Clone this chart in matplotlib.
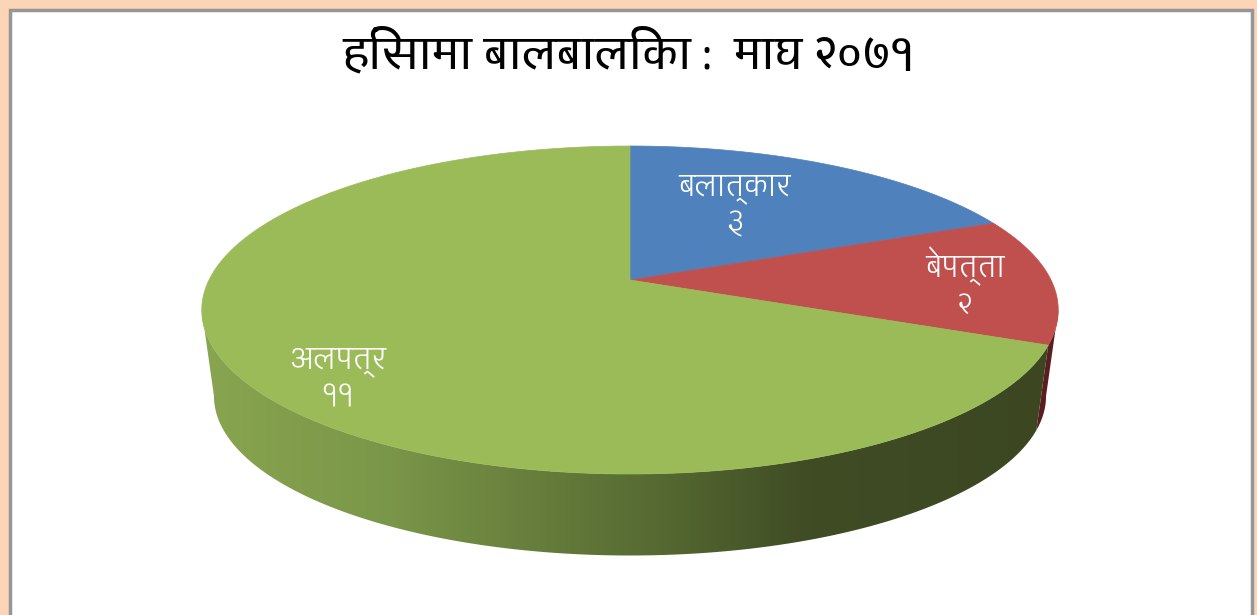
import matplotlib
matplotlib.use('Agg')
import matplotlib.pyplot as plt
from matplotlib.colors import LinearSegmentedColormap
from matplotlib.patches import Polygon, Rectangle
import numpy as np

# Dados
categorias = ['बलात्कार', 'बेपत्ता', 'अलपत्र']
valores = [3, 2, 11]
rotulos_valor = ['३', '२', '११']
titulo = 'हिंसामा बालबालिका :  माघ २०७१'

cores = ['#4F81BD', '#C0504D', '#9BBB59']
pos_rotulos = [(735, 207), (965, 285), (338, 380)]

FONTE = 'Glegoo'
K = 0.183


def projeta(ang, cx, cy, a, b):
    # ang em radianos a partir do topo, sentido horario
    u, v = np.sin(ang), np.cos(ang)
    d = 1 + K * v
    return cx + a * u / d, cy - b * v / d


def topo(ang):
    return projeta(ang, 630, 280, 421, 158.5)


def fundo(ang):
    return projeta(ang, 630, 367, 409, 154)


def lateral(a0, a1):
    # faixa entre o arco de cima e o de baixo, de a0 ate a1
    ang = np.linspace(a0, a1, 300)
    xt, yt = topo(ang)
    xf, yf = fundo(ang)
    return np.r_[np.c_[xt, yt], np.c_[xf, yf][::-1]]


fig = plt.figure(figsize=(12.57, 6.15), dpi=100, facecolor='#FBD5B5')
ax = fig.add_axes([0, 0, 1, 1])
ax.set_xlim(0, 1257)
ax.set_ylim(615, 0)
ax.axis('off')

# moldura
ax.add_patch(Rectangle((9.5, 9.5), 1242, 640, fc='white', ec='#969696', lw=2.5, zorder=0))

limites = np.cumsum([0] + valores) / sum(valores) * 2 * np.pi

# pontos extremos da elipse em perspectiva: cos(ang) = -K
ang_dir = np.arccos(-K)
ang_esq = 2 * np.pi - ang_dir

# lateral vermelha (so um filete aparece a direita)
ax.add_patch(Polygon(lateral(ang_dir, limites[2]), fc='#5A1E20', ec='none', zorder=1))

# lateral verde com degrade
grad = LinearSegmentedColormap.from_list('lado', [
    (0.00, '#88A550'), (0.22, '#7A9648'), (0.36, '#6A823E'),
    (0.53, '#566A32'), (0.71, '#3F4C24'), (1.00, '#3C4722')])
p = Polygon(lateral(limites[2], ang_esq), fc='none', ec='none', zorder=2)
ax.add_patch(p)
im = ax.imshow(np.linspace(0, 1, 256).reshape(1, -1), cmap=grad, aspect='auto',
               extent=(202, 1058, 560, 300), zorder=2)
im.set_clip_path(p)

# fatias
for i in range(len(valores)):
    ang = np.linspace(limites[i], limites[i + 1], 300)
    xt, yt = topo(ang)
    pts = np.r_[[(630, 280)], np.c_[xt, yt]]
    ax.add_patch(Polygon(pts, fc=cores[i], ec=cores[i], lw=0.5, zorder=3))

ax.set_xlim(0, 1257)
ax.set_ylim(615, 0)

for nome, rot, (x, y) in zip(categorias, rotulos_valor, pos_rotulos):
    ax.text(x, y, nome + '\n' + rot, color='white', family=[FONTE, 'DejaVu Sans'], fontsize=20,
            ha='center', va='center', linespacing=1.35, zorder=5)

ax.text(629, 54, titulo, color='black', family=[FONTE, 'DejaVu Sans'], fontsize=29.5,
        fontweight='bold', ha='center', va='center', zorder=5)

fig.savefig('out.png', dpi=100, facecolor=fig.get_facecolor())
